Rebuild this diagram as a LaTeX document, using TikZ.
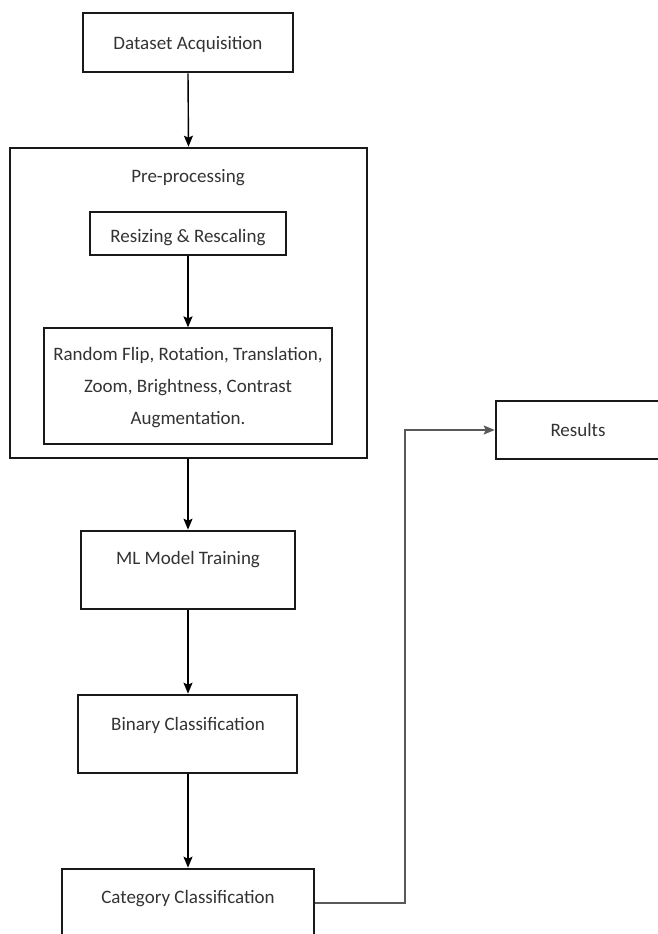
\documentclass[tikz,border=0pt]{standalone}
\usepackage{fontspec}
\setmainfont{Carlito}
\usetikzlibrary{arrows.meta,calc}
\begin{document}
\begin{tikzpicture}[x=1pt,y=1pt,
  thickbox/.style={draw=black!90,line width=2.6pt,rectangle,inner sep=0pt},
  thinbox/.style={draw=black!90,line width=1.3pt,rectangle,inner sep=0pt},
  txt/.style={text=black!80,font=\fontsize{19}{32}\selectfont,align=center,inner sep=0pt},
  arr/.style={draw=black,line width=1.4pt,-{Stealth[length=11pt,width=9pt,inset=2pt]}},
  garr/.style={draw=black!65,line width=1.6pt,-{Stealth[length=11pt,width=9pt,inset=2pt]}}]
\useasboundingbox (0,0) rectangle (658,-934);
\clip (0,0) rectangle (658,-934);
% boxes
\node[thickbox,minimum width=210pt,minimum height=59pt] (ds) at (188,-42.5) {};
\node[thickbox,minimum width=357pt,minimum height=310pt] (pre) at (188.5,-303) {};
\node[thinbox,minimum width=196pt,minimum height=43pt] (rs) at (188,-233.5) {};
\node[thinbox,minimum width=288pt,minimum height=116pt] (aug) at (188,-386) {};
\node[thickbox,minimum width=214pt,minimum height=78pt] (ml) at (188,-570) {};
\node[thickbox,minimum width=219pt,minimum height=78pt] (bin) at (187.5,-734) {};
\node[thickbox,minimum width=252pt,minimum height=78pt] (cat) at (188,-908) {};
\node[thickbox,minimum width=164pt,minimum height=58pt] (res) at (578,-430) {};
% texts
\node[txt] (tds) at (188,-44) {Dataset Acquisition};
\node[txt] (tpre) at (188,-178) {Pre-processing};
\node[txt] (trs) at (188,-238) {Resizing \& Rescaling};
\node[txt] (taug) at (188,-388) {Random Flip, Rotation, Translation,\\Zoom, Brightness, Contrast\\Augmentation.};
\node[txt] (tml) at (188,-560) {ML Model Training};
\node[txt] (tbin) at (188,-725) {Binary Classification};
\node[txt] (tcat) at (188,-899) {Category Classification};
\node[txt] (tres) at (578,-430) {Results};
% connectors
\coordinate (bend) at (405,-903);
\draw[arr] (ds.south) -- (pre.north);
\draw[arr] (rs.south) -- (aug.north);
\draw[arr] (pre.south -| ml.north) -- (ml.north);
\draw[arr] (ml.south) -- (bin.north -| ml.south);
\draw[arr] (bin.south -| cat.north) -- (cat.north);
\draw[garr] (cat.east |- bend) -- (bend) |- (res.west);
\end{tikzpicture}
\end{document}
